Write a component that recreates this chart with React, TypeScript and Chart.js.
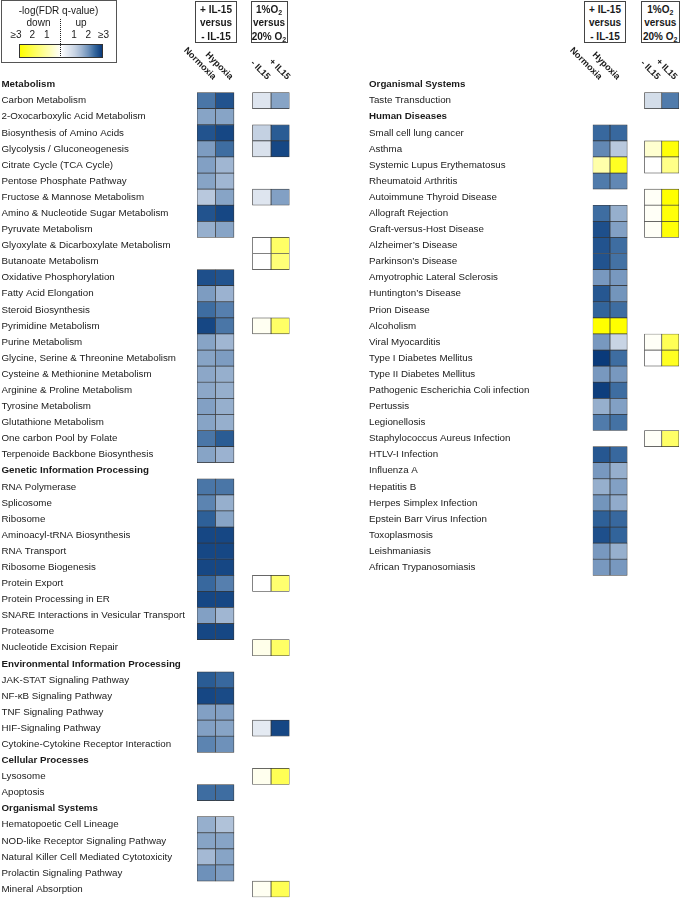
import React, { useEffect, useRef } from 'react';
import { Chart, registerables } from 'chart.js';

Chart.register(...registerables);

const FONT = '"Liberation Sans", Arial, Helvetica, sans-serif';

// ---------- Left panel ----------
const leftPathways = [
  'Metabolism',
  'Carbon Metabolism',
  '2-Oxocarboxylic Acid Metabolism',
  'Biosynthesis of Amino Acids',
  'Glycolysis / Gluconeogenesis',
  'Citrate Cycle (TCA Cycle)',
  'Pentose Phosphate Pathway',
  'Fructose & Mannose Metabolism',
  'Amino & Nucleotide Sugar Metabolism',
  'Pyruvate Metabolism',
  'Glyoxylate & Dicarboxylate Metabolism',
  'Butanoate Metabolism',
  'Oxidative Phosphorylation',
  'Fatty Acid Elongation',
  'Steroid Biosynthesis',
  'Pyrimidine Metabolism',
  'Purine Metabolism',
  'Glycine, Serine & Threonine Metabolism',
  'Cysteine & Methionine Metabolism',
  'Arginine & Proline Metabolism',
  'Tyrosine Metabolism',
  'Glutathione Metabolism',
  'One carbon Pool by Folate',
  'Terpenoide Backbone Biosynthesis',
  'Genetic Information Processing',
  'RNA Polymerase',
  'Splicosome',
  'Ribosome',
  'Aminoacyl-tRNA Biosynthesis',
  'RNA Transport',
  'Ribosome Biogenesis',
  'Protein Export',
  'Protein Processing in ER',
  'SNARE Interactions in Vesicular Transport',
  'Proteasome',
  'Nucleotide Excision Repair',
  'Environmental Information Processing',
  'JAK-STAT Signaling Pathway',
  'NF-\u03BAB Signaling Pathway',
  'TNF Signaling Pathway',
  'HIF-Signaling Pathway',
  'Cytokine-Cytokine Receptor Interaction',
  'Cellular Processes',
  'Lysosome',
  'Apoptosis',
  'Organismal Systems',
  'Hematopoetic Cell Lineage',
  'NOD-like Receptor Signaling Pathway',
  'Natural Killer Cell Mediated Cytotoxicity',
  'Prolactin Signaling Pathway',
  'Mineral Absorption',
];

const leftHeaders = [
  'Metabolism',
  'Genetic Information Processing',
  'Environmental Information Processing',
  'Cellular Processes',
  'Organismal Systems',
];

// signed -log(FDR q-value): positive = up (blue), negative = down (yellow)
const leftNormoxia = [
  null, 2.3, 1.75, 2.7, 1.85, 1.8, 1.75, 1.2, 2.7, 1.6,
  null, null, 2.75, 1.85, 2.4, 2.85, 1.75, 1.75, 1.7, 1.7,
  1.8, 1.75, 2.3, 1.75, null, 2.3, 2.15, 2.55, 2.85, 2.85,
  2.85, 2.45, 2.85, 1.8, 2.85, null, null, 2.6, 2.85, 1.8,
  1.8, 2.15, null, null, 2.4, null, 1.6, 1.75, 1.45, 2.0,
  null,
];
const leftHypoxia = [
  null, 2.7, 1.75, 2.85, 2.4, 1.5, 1.5, 1.75, 2.85, 1.75,
  null, null, 2.7, 1.55, 2.2, 2.3, 1.5, 1.85, 1.6, 1.6,
  1.6, 1.6, 2.6, 1.55, null, 2.3, 1.6, 1.75, 2.85, 2.85,
  2.85, 2.2, 2.85, 1.5, 2.85, null, null, 2.45, 2.8, 1.8,
  1.75, 2.0, null, null, 2.4, null, 1.3, 1.75, 1.75, 1.85,
  null,
];
const leftMinusIL15 = [
  null, 0.6, null, 1.05, 0.7, null, null, 0.6, null, null,
  0, 0, null, null, null, -0.15, null, null, null, null,
  null, null, null, null, null, null, null, null, null, null,
  null, 0, null, null, null, -0.25, null, null, null, null,
  0.5, null, null, -0.2, null, null, null, null, null, null,
  -0.15,
];
const leftPlusIL15 = [
  null, 1.75, null, 2.6, 2.85, null, null, 1.8, null, null,
  -1.8, -1.6, null, null, null, -1.8, null, null, null, null,
  null, null, null, null, null, null, null, null, null, null,
  null, -1.7, null, null, null, -1.8, null, null, null, null,
  2.85, null, null, -2.0, null, null, null, null, null, null,
  -2.0,
];

// ---------- Right panel ----------
const rightPathways = [
  'Organismal Systems',
  'Taste Transduction',
  'Human Diseases',
  'Small cell lung cancer',
  'Asthma',
  'Systemic Lupus Erythematosus',
  'Rheumatoid Arthritis',
  'Autoimmune Thyroid Disease',
  'Allograft Rejection',
  'Graft-versus-Host Disease',
  'Alzheimer\u2019s Disease',
  'Parkinson\u2019s Disease',
  'Amyotrophic Lateral Sclerosis',
  'Huntington\u2019s Disease',
  'Prion Disease',
  'Alcoholism',
  'Viral Myocarditis',
  'Type I Diabetes Mellitus',
  'Type II Diabetes Mellitus',
  'Pathogenic Escherichia Coli infection',
  'Pertussis',
  'Legionellosis',
  'Staphylococcus Aureus Infection',
  'HTLV-I Infection',
  'Influenza A',
  'Hepatitis B',
  'Herpes Simplex Infection',
  'Epstein Barr Virus Infection',
  'Toxoplasmosis',
  'Leishmaniasis',
  'African Trypanosomiasis',
];

const rightHeaders = ['Organismal Systems', 'Human Diseases'];

const rightNormoxia = [
  null, null, null, 2.45, 2.1, -1.0, 2.25, null, 2.4, 2.75,
  2.7, 2.7, 1.9, 2.65, 2.5, -3, 1.9, 3.0, 1.9, 2.95,
  1.6, 2.25, null, 2.65, 1.9, 1.6, 1.95, 2.55, 2.75, 1.9,
  1.9,
];
const rightHypoxia = [
  null, null, null, 2.45, 1.2, -2.6, 2.1, null, 1.6, 1.8,
  2.4, 2.35, 1.9, 1.95, 2.4, -3, 1.0, 2.4, 1.9, 2.4,
  1.8, 2.35, null, 2.45, 1.6, 1.8, 1.65, 2.45, 2.5, 1.6,
  1.9,
];
const rightMinusIL15 = [
  null, 0.8, null, null, -0.55, 0, null, -0.1, -0.1, -0.1,
  null, null, null, null, null, null, -0.1, 0, null, null,
  null, null, -0.1, null, null, null, null, null, null, null,
  null,
];
const rightPlusIL15 = [
  null, 2.25, null, null, -2.9, -1.4, null, -3, -2.9, -2.9,
  null, null, null, null, null, null, -2.0, -2.6, null, null,
  null, null, -1.8, null, null, null, null, null, null, null,
  null,
];

const columnNames = ['Normoxia', 'Hypoxia', '- IL15', '+ IL15'];
const columnSlots = [0, 1, 3, 4];
const legendTicksDown = ['\u22653', '2', '1'];
const legendTicksUp = ['1', '2', '\u22653'];

// ---------- Colour scale ----------
const blueStops: [number, number[]][] = [
  [0, [255, 255, 255]],
  [1, [200, 212, 228]],
  [1.5, [160, 182, 210]],
  [2, [110, 145, 186]],
  [2.5, [50, 100, 155]],
  [3, [10, 58, 122]],
];

function colorFor(v: number | null): string {
  if (v == null) return 'rgba(0,0,0,0)';
  if (v < 0) {
    const t = Math.min(3, -v) / 3;
    const b = Math.round(255 * (1 - t));
    return `rgb(255,255,${b})`;
  }
  const x = Math.min(3, v);
  for (let i = 1; i < blueStops.length; i++) {
    const [v1, c1] = blueStops[i];
    const [v0, c0] = blueStops[i - 1];
    if (x <= v1) {
      const t = (x - v0) / (v1 - v0);
      const c = c0.map((a, k) => Math.round(a + (c1[k] - a) * t));
      return `rgb(${c[0]},${c[1]},${c[2]})`;
    }
  }
  const c = blueStops[blueStops.length - 1][1];
  return `rgb(${c[0]},${c[1]},${c[2]})`;
}

const ROWS = leftPathways.length;

type PanelProps = {
  labels: string[];
  headers: string[];
  columns: (number | null)[][];
  width: number;
  height: number;
  padLeft: number;
  padRight: number;
  axisWidth: number;
  left: number;
};

function HeatPanel(p: PanelProps) {
  const ref = useRef<HTMLCanvasElement | null>(null);
  useEffect(() => {
    if (!ref.current) return;
    const labels = [...p.labels];
    while (labels.length < ROWS) labels.push('');
    const datasets = p.columns.map((vals, k) => {
      const padded = [...vals];
      while (padded.length < ROWS) padded.push(null);
      const slot = columnSlots[k];
      return {
        label: columnNames[k],
        data: padded.map((v) => (v == null ? null : [slot, slot + 1])),
        backgroundColor: padded.map((v) => colorFor(v)),
        borderColor: '#353535',
        borderWidth: 0.7,
        borderSkipped: false,
        grouped: false,
        barPercentage: 1,
        categoryPercentage: 1,
      };
    });
    const chart = new Chart(ref.current, {
      type: 'bar',
      data: { labels, datasets: datasets as any },
      options: {
        indexAxis: 'y',
        responsive: false,
        animation: false,
        devicePixelRatio: 1,
        layout: { padding: { left: p.padLeft, right: p.padRight, top: 76.5, bottom: 3.5 } },
        plugins: { legend: { display: false }, tooltip: { enabled: false } },
        scales: {
          x: { type: 'linear', min: 0, max: 5, display: false },
          y: {
            type: 'category',
            grid: { display: false },
            border: { display: false },
            ticks: {
              autoSkip: false,
              crossAlign: 'far',
              padding: 0,
              color: '#1a1a1a',
              font: (ctx: any) => ({
                family: FONT,
                size: 9.75,
                weight: p.headers.includes(labels[ctx.index]) ? 'bold' : 'normal',
              }),
            },
            afterFit: (s: any) => {
              s.width = p.axisWidth;
            },
          },
        },
      } as any,
    });
    return () => chart.destroy();
  }, []);
  return (
    <canvas
      ref={ref}
      width={p.width}
      height={p.height}
      style={{ position: 'absolute', left: p.left, top: 0, width: p.width, height: p.height }}
    />
  );
}

const txt: React.CSSProperties = {
  position: 'absolute',
  fontFamily: FONT,
  fontSize: 10,
  color: '#1a1a1a',
  whiteSpace: 'nowrap',
  lineHeight: '12px',
};

function CText({ x, y, children, bold }: { x: number; y: number; children: any; bold?: boolean }) {
  return (
    <div style={{ ...txt, left: x, top: y - 6, transform: 'translateX(-50%)', fontWeight: bold ? 'bold' : 'normal' }}>
      {children}
    </div>
  );
}

function RotLabel({ x, y, children }: { x: number; y: number; children: any }) {
  return (
    <div
      style={{
        ...txt,
        fontSize: 9,
        left: x - 70,
        top: y - 6,
        width: 70,
        height: 12,
        textAlign: 'right',
        fontWeight: 'bold',
        transformOrigin: '100% 50%',
        transform: 'rotate(45deg)',
      }}
    >
      {children}
    </div>
  );
}

const sub: React.CSSProperties = { fontSize: 7, verticalAlign: '-2px', lineHeight: 0 };

function HeaderBox({ x, w, kind }: { x: number; w: number; kind: 'il' | 'o2' }) {
  return (
    <div
      style={{
        position: 'absolute',
        left: x,
        top: 1,
        width: w,
        height: 42,
        boxSizing: 'border-box',
        border: '1px solid #444',
        background: '#fff',
        fontFamily: FONT,
        fontSize: 10,
        fontWeight: 'bold',
        lineHeight: '13.5px',
        textAlign: 'center',
        paddingTop: 0.5,
        color: '#1a1a1a',
        whiteSpace: 'nowrap',
      }}
    >
      {kind === 'il' ? (
        <>
          <div>+ IL-15</div>
          <div>versus</div>
          <div>- IL-15</div>
        </>
      ) : (
        <>
          <div>
            1%O<span style={sub}>2</span>
          </div>
          <div>versus</div>
          <div>
            20% O<span style={sub}>2</span>
          </div>
        </>
      )}
    </div>
  );
}

function Legend() {
  const stops: string[] = [];
  for (let i = 0; i <= 24; i++) {
    const v = -3 + (6 * i) / 24;
    stops.push(`${colorFor(v)} ${((i / 24) * 100).toFixed(2)}%`);
  }
  return (
    <>
      <div
        style={{
          position: 'absolute',
          left: 1,
          top: 0,
          width: 116,
          height: 63,
          boxSizing: 'border-box',
          border: '1px solid #555',
        }}
      />
      <CText x={58.5} y={10.5}>-log(FDR q-value)</CText>
      <CText x={38.5} y={23}>down</CText>
      <CText x={81} y={23}>up</CText>
      {legendTicksDown.map((t, i) => (
        <CText key={'d' + i} x={[16, 32.3, 46.7][i]} y={34.5}>
          {t}
        </CText>
      ))}
      {legendTicksUp.map((t, i) => (
        <CText key={'u' + i} x={[74, 88.3, 103.5][i]} y={34.5}>
          {t}
        </CText>
      ))}
      <div
        style={{
          position: 'absolute',
          left: 19,
          top: 44,
          width: 84,
          height: 14,
          boxSizing: 'border-box',
          border: '1px solid #333',
          background: `linear-gradient(to right, ${stops.join(', ')})`,
        }}
      />
      <div
        style={{
          position: 'absolute',
          left: 60,
          top: 19,
          width: 0,
          height: 39,
          borderLeft: '1px dotted #222',
        }}
      />
    </>
  );
}

export default function App() {
  return (
    <div style={{ position: 'absolute', left: 0, top: 0, width: 683, height: 903, background: '#fff', overflow: 'hidden' }}>
      <HeatPanel
        labels={leftPathways}
        headers={leftHeaders}
        columns={[leftNormoxia, leftHypoxia, leftMinusIL15, leftPlusIL15]}
        width={300}
        height={903}
        left={0}
        padLeft={1.5}
        padRight={10.5}
        axisWidth={195.5}
      />
      <HeatPanel
        labels={rightPathways}
        headers={rightHeaders}
        columns={[rightNormoxia, rightHypoxia, rightMinusIL15, rightPlusIL15]}
        width={343}
        height={903}
        left={340}
        padLeft={29}
        padRight={4}
        axisWidth={223.7}
      />
      <Legend />
      <HeaderBox x={195} w={42} kind="il" />
      <HeaderBox x={250.5} w={37} kind="o2" />
      <HeaderBox x={584} w={42} kind="il" />
      <HeaderBox x={641} w={38.5} kind="o2" />
      <RotLabel x={215} y={78.4}>{columnNames[0]}</RotLabel>
      <RotLabel x={232} y={78.4}>{columnNames[1]}</RotLabel>
      <RotLabel x={269} y={78.4}>{columnNames[2]}</RotLabel>
      <RotLabel x={289} y={78.4}>{columnNames[3]}</RotLabel>
      <RotLabel x={601} y={78.4}>{columnNames[0]}</RotLabel>
      <RotLabel x={619} y={78.4}>{columnNames[1]}</RotLabel>
      <RotLabel x={658.5} y={78.4}>{columnNames[2]}</RotLabel>
      <RotLabel x={676} y={78.4}>{columnNames[3]}</RotLabel>
    </div>
  );
}
